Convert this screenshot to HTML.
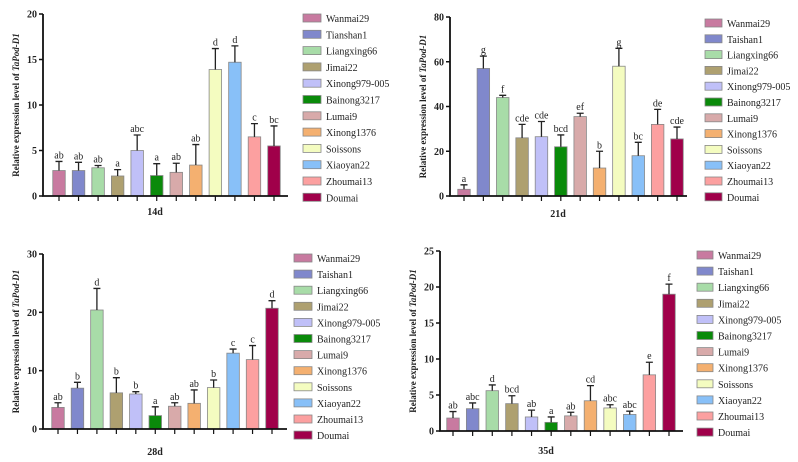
<!DOCTYPE html>
<html><head><meta charset="utf-8"><style>
body{margin:0;background:#fff;}
svg{display:block;font-family:"Liberation Serif",serif;}
</style></head><body>
<svg id="c" width="798" height="462"></svg>
<script>
const names=["Wanmai29","Tianshan1","Liangxing66","Jimai22","Xinong979-005","Bainong3217","Lumai9","Xinong1376","Soissons","Xiaoyan22","Zhoumai13","Doumai"];
const names2=["Wanmai29","Taishan1","Liangxing66","Jimai22","Xinong979-005","Bainong3217","Lumai9","Xinong1376","Soissons","Xiaoyan22","Zhoumai13","Doumai"];
const colors=["#c87aa0","#8088cc","#a8dca8","#aea070","#c0c0f8","#0a8a0a","#d8aaaa","#f4b070","#f4fcc0","#88c0f8","#fca0a0","#a0004a"];
const v14=[2.8,2.8,3.1,2.2,5.0,2.25,2.6,3.4,13.9,14.7,6.5,5.5];
const e14=[3.8,3.7,3.35,2.9,6.7,3.55,3.6,5.65,16.2,16.5,7.95,7.7];
const l14=["ab","ab","ab","a","abc","a","ab","ab","d","d","c","bc"];
const v21=[3,57,44,26,26.5,22,35.5,12.5,58,18,32,25.5];
const e21=[5,62.5,45,32,33.3,27.3,37,20,66,24,38.7,30.8];
const l21=["a","g","f","cde","cde","bcd","ef","b","g","bc","de","cde"];
const v28=[3.7,7.0,20.4,6.2,6.0,2.3,3.9,4.4,7.1,13.0,11.9,20.7];
const e28=[4.5,8.0,24.1,8.8,6.4,3.8,4.5,6.7,8.4,13.7,14.3,22.0];
const l28=["ab","b","d","b","b","a","ab","ab","b","c","c","d"];
const v35=[1.8,3.1,5.6,3.8,1.95,1.2,2.1,4.2,3.2,2.3,7.8,19.0];
const e35=[2.7,3.9,6.4,4.9,2.9,1.95,2.6,6.3,3.65,2.75,9.55,20.4];
const l35=["ab","abc","d","bcd","ab","a","ab","cd","abc","abc","e","f"];
const t14=[0,5,10,15,20],t21=[0,20,40,60,80],t28=[0,10,20,30],t35=[0,5,10,15,20,25];
const svg=document.getElementById('c');const NS="http://www.w3.org/2000/svg";
function mk(t,a,p,txt){const e=document.createElementNS(NS,t);for(const k in a)e.setAttribute(k,a[k]);if(txt!==undefined)e.textContent=txt;(p||svg).appendChild(e);return e;}
function panel(id,P,vals,errs,lets,ticks,lab,leg){
 const g=mk('g',{});
 
 
 const ymax=ticks[ticks.length-1];
 const y=v=>P.y0-(P.y0-P.yt)*v/ymax;
 const x=i=>P.x1+(P.xn-P.x1)*i/11;
 const bw=12.5;
 vals.forEach((v,i)=>{
  const b=mk('rect',{x:x(i)-bw/2,y:y(v),width:bw,height:P.y0-y(v),fill:colors[i],stroke:"#888","stroke-width":0.8},g);
  
  
  const eb=mk('path',{d:`M${x(i)} ${y(v)}V${y(errs[i])}M${x(i)-3.5} ${y(errs[i])}H${x(i)+3.5}`,stroke:"#222","stroke-width":1.3,fill:"none"},g);
  
  
  const t=mk('text',{x:x(i),y:y(errs[i])-3,"text-anchor":"middle","font-size":10,fill:"#222"},g,lets[i]);
  
  
  mk('line',{x1:x(i),x2:x(i),y1:P.y0,y2:P.y0+5,stroke:"#111","stroke-width":1.2},g);
 });
 const ax=mk('path',{d:`M${P.ax} ${P.yt}V${P.y0}H${P.xe}`,stroke:"#111","stroke-width":1.8,fill:"none"},g);
 
 
 ticks.forEach(t=>{
  mk('line',{x1:P.ax-4,x2:P.ax,y1:y(t),y2:y(t),stroke:"#111","stroke-width":1.5},g);
  const tl=mk('text',{x:P.ax-6,y:y(t)+3.5,"text-anchor":"end","font-size":10,"font-weight":"bold",fill:"#222"},g,t);
  
  
 });
 const yt=mk('text',{transform:`translate(${P.ax-24},${(P.y0+P.yt)/2}) rotate(-90)`,"text-anchor":"middle","font-size":9,"font-weight":"bold",fill:"#222"},g);
 
 
 yt.innerHTML='Relative expression level of <tspan font-style="italic">TaPod-D1</tspan>';
 const xl=mk('text',{x:P.lx,y:P.ly,"text-anchor":"middle","font-size":10,"font-weight":"bold",fill:"#222"},g,lab);
 
 
 leg.forEach((n,i)=>{
  const ly=P.gy+P.gs*i;
  const le=mk('g',{},g);
  
  
  mk('rect',{x:P.gx,y:ly-4,width:P.gw,height:8,fill:colors[i],stroke:"#888","stroke-width":0.8},le);
  mk('text',{x:P.gx+P.gw+5,y:ly+4,"font-size":10,fill:"#222"},le,n);
 });
}
panel('14d',{ax:43,yt:14,y0:196,x1:59,xn:274,xe:288,lx:155,ly:215,gx:303,gw:18,gy:18,gs:16.3},v14,e14,l14,t14,"14d",names);
panel('21d',{ax:450,yt:17,y0:196,x1:464,xn:677,xe:687,lx:558,ly:217,gx:705,gw:17,gy:23,gs:15.8},v21,e21,l21,t21,"21d",names2);
panel('28d',{ax:43,yt:254,y0:429,x1:58,xn:272,xe:287,lx:155,ly:455,gx:294,gw:18,gy:258,gs:16.1},v28,e28,l28,t28,"28d",names2);
panel('35d',{ax:440,yt:251,y0:431,x1:453,xn:669,xe:683,lx:546,ly:454,gx:697,gw:16,gy:255,gs:16.1},v35,e35,l35,t35,"35d",names2);
</script>
</body></html>
